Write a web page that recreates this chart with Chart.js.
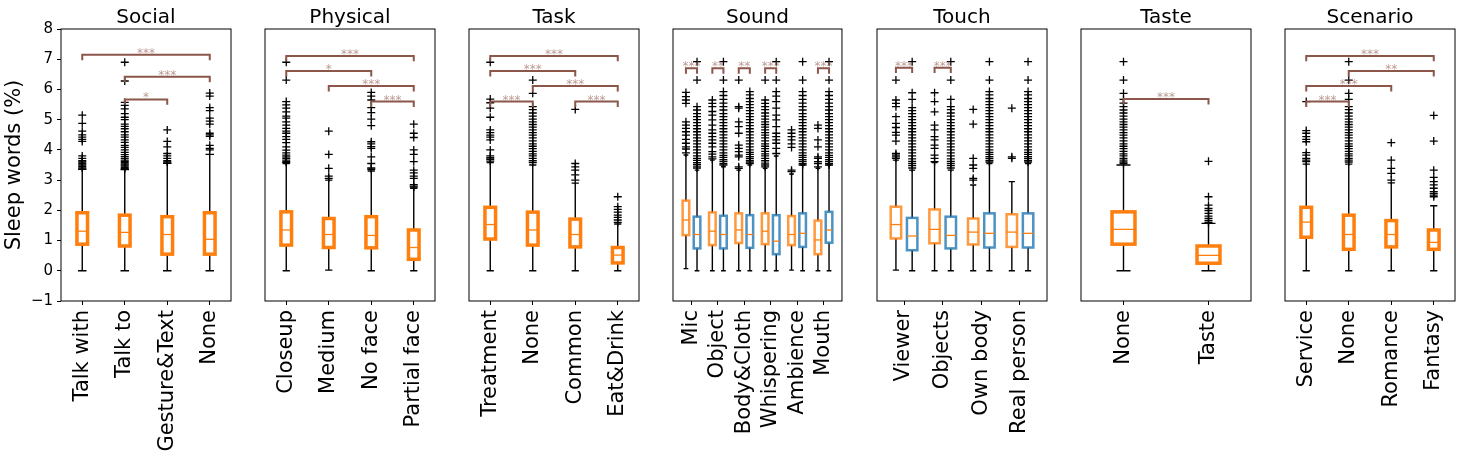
<!DOCTYPE html>
<html>
<head>
<meta charset="utf-8">
<script src="https://cdn.jsdelivr.net/npm/chart.js@4.4.1/dist/chart.umd.min.js"></script>
<style>
  body { margin: 0; background: #fff; }
  #fig { position: relative; width: 1462px; height: 461px; overflow: hidden; }
  #fig canvas { position: absolute; top: 0; }
</style>
</head>
<body>
<div id="fig"></div>
<script>
// ===============================
// Data (box stats are [low whisker, q1, median, q3, high whisker])
// ===============================

const socialLabels = ['Talk with', 'Talk to', 'Gesture&Text', 'None'];
const socialBoxes = [[0, 0.88, 1.31, 1.92, 3.36], [0, 0.82, 1.27, 1.84, 3.35], [0, 0.55, 1.2, 1.79, 3.56], [0, 0.55, 1.04, 1.92, 3.85]];
const socialFliers = [
  [5.15, 4.88, 4.62, 4.5, 4.42, 4.35, 4.28, 3.8, 3.72, 3.64, 3.6, 3.55, 3.5, 3.45, 3.4],
  [6.9, 6.28, 5.57, 5.47, 5.36, 5.2, 5.08, 5.0, 4.85, 4.78, 4.7, 4.6, 4.5, 4.42, 4.33, 4.25, 4.15, 4.08, 4.0, 3.92, 3.84, 3.78, 3.72, 3.66, 3.62, 3.58, 3.54, 3.5, 3.46, 3.42, 3.38],
  [4.66, 4.28, 4.1, 3.88, 3.8, 3.72, 3.64, 3.6],
  [5.88, 5.78, 5.4, 5.3, 5.05, 4.95, 4.85, 4.55, 4.5, 4.45, 4.15, 4.05, 4.0]
];
const socialSig = [[1, 4, 7.15, '***'], [2, 4, 6.42, '***'], [2, 3, 5.67, '*']];

const physicalLabels = ['Closeup', 'Medium', 'No face', 'Partial face'];
const physicalBoxes = [[0, 0.85, 1.35, 1.95, 3.55], [0.02, 0.77, 1.2, 1.73, 3.0], [0, 0.76, 1.17, 1.79, 3.3], [0, 0.38, 0.77, 1.35, 2.73]];
const physicalFliers = [
  [6.9, 6.31, 5.6, 5.49, 5.38, 5.26, 5.12, 5.05, 4.93, 4.82, 4.71, 4.62, 4.55, 4.44, 4.35, 4.24, 4.1, 3.99, 3.9, 3.83, 3.77, 3.72, 3.66, 3.61, 3.58],
  [4.62, 3.85, 3.39, 3.13, 3.06],
  [5.9, 5.78, 5.65, 5.4, 5.23, 5.02, 4.8, 4.27, 4.2, 4.11, 4.05, 3.77, 3.55, 3.4, 3.36],
  [4.85, 4.55, 4.41, 4.0, 3.85, 3.61, 3.33, 3.24, 3.13, 3.06, 2.85, 2.8, 2.77]
];
const physicalSig = [[1, 4, 7.11, '***'], [1, 3, 6.61, '*'], [2, 4, 6.11, '***'], [3, 4, 5.6, '***']];

const taskLabels = ['Treatment', 'None', 'Common', 'Eat&Drink'];
const taskBoxes = [[0, 1.05, 1.53, 2.1, 3.58], [0, 0.85, 1.35, 1.94, 3.5], [0, 0.79, 1.2, 1.71, 2.9], [0, 0.26, 0.52, 0.77, 1.55]];
const taskFliers = [
  [6.9, 5.68, 5.56, 5.38, 5.08, 4.66, 4.57, 4.49, 4.42, 4.33, 4.0, 3.8, 3.74, 3.69, 3.63],
  [6.31, 5.87, 5.43, 5.33, 5.22, 5.12, 5.02, 4.93, 4.84, 4.75, 4.66, 4.57, 4.49, 4.4, 4.3, 4.2, 4.12, 4.04, 3.95, 3.87, 3.8, 3.72, 3.64, 3.58],
  [5.34, 3.55, 3.44, 3.33, 3.17, 3.0],
  [2.45, 2.12, 2.03, 1.94, 1.84, 1.77, 1.68, 1.6]
];
const taskSig = [[1, 4, 7.11, '***'], [1, 3, 6.61, '***'], [2, 4, 6.11, '***'], [1, 2, 5.6, '***'], [3, 4, 5.6, '***']];

const soundLabels = ['Mic', 'Object', 'Body&Cloth', 'Whispering', 'Ambience', 'Mouth'];
const soundBoxesA = [[0.07, 1.18, 1.68, 2.32, 3.83], [0, 0.85, 1.31, 1.93, 3.66], [0, 0.92, 1.35, 1.9, 3.33], [0, 0.88, 1.31, 1.9, 3.39], [0.02, 0.85, 1.2, 1.81, 3.2], [0, 0.55, 1.02, 1.66, 3.39]];
const soundBoxesB = [[0, 0.74, 1.2, 1.79, 3.33], [0, 0.74, 1.2, 1.82, 3.44], [0, 0.76, 1.2, 1.84, 3.5], [0, 0.55, 0.98, 1.84, 3.8], [0, 0.79, 1.24, 1.9, 3.5], [0, 0.93, 1.35, 1.95, 3.5]];
const soundFliersA = [
  [5.9, 5.76, 5.65, 5.54, 4.93, 4.82, 4.71, 4.6, 4.49, 4.35, 4.22, 4.1, 4.03, 3.9],
  [5.65, 5.54, 5.43, 5.27, 5.15, 4.99, 4.82, 4.66, 4.55, 4.44, 4.33, 4.22, 4.1, 3.94, 3.86, 3.77, 3.7],
  [6.31, 5.43, 5.38, 4.93, 4.77, 4.55, 4.16, 4.05, 3.94, 3.83, 3.77, 3.44, 3.39],
  [6.31, 5.65, 5.54, 5.43, 5.33, 5.22, 5.12, 5.02, 4.93, 4.84, 4.75, 4.66, 4.57, 4.49, 4.4, 4.3, 4.2, 4.12, 4.04, 3.95, 3.87, 3.8, 3.72, 3.64, 3.56, 3.5, 3.44],
  [4.66, 4.55, 4.44, 4.33, 4.2, 4.08, 3.33, 3.28],
  [4.82, 4.71, 4.33, 4.1, 3.77, 3.72, 3.61, 3.55, 3.44]
];
const soundFliersB = [
  [6.92, 6.31, 5.43, 5.32, 5.2, 5.1, 5.0, 4.9, 4.8, 4.7, 4.6, 4.5, 4.4, 4.3, 4.2, 4.1, 4.0, 3.9, 3.8, 3.72, 3.65, 3.58, 3.52, 3.46, 3.4],
  [6.92, 6.31, 5.93, 5.8, 5.67, 5.55, 5.43, 5.32, 5.2, 5.1, 5.0, 4.9, 4.8, 4.7, 4.6, 4.5, 4.4, 4.3, 4.2, 4.1, 4.0, 3.9, 3.82, 3.75, 3.68, 3.62, 3.55, 3.5],
  [5.93, 5.82, 5.7, 5.6, 5.5, 5.4, 5.3, 5.2, 5.1, 5.0, 4.9, 4.8, 4.7, 4.6, 4.5, 4.4, 4.3, 4.2, 4.1, 4.0, 3.92, 3.85, 3.78, 3.72, 3.65, 3.6, 3.55],
  [6.92, 6.31, 5.93, 5.78, 5.6, 5.38, 5.15, 4.99, 4.77, 4.55, 4.44, 4.33, 4.22, 4.05, 3.88],
  [6.92, 6.31, 5.93, 5.8, 5.67, 5.55, 5.43, 5.32, 5.2, 5.1, 5.0, 4.9, 4.8, 4.7, 4.6, 4.5, 4.4, 4.3, 4.2, 4.1, 4.0, 3.9, 3.82, 3.75, 3.68, 3.62, 3.55, 3.5],
  [6.92, 6.31, 5.93, 5.8, 5.67, 5.55, 5.43, 5.32, 5.2, 5.1, 5.0, 4.9, 4.8, 4.7, 4.6, 4.5, 4.4, 4.3, 4.2, 4.1, 4.0, 3.9, 3.82, 3.75, 3.68, 3.62, 3.55, 3.5]
];
const soundSigPairs = [1, 2, 3, 4, 6];
const soundSigText = ['***', '**', '**', '***', '***'];

const touchLabels = ['Viewer', 'Objects', 'Own body', 'Real person'];
const touchBoxesA = [[0.02, 1.07, 1.53, 2.12, 3.66], [0, 0.91, 1.37, 2.03, 3.58], [0, 0.87, 1.28, 1.73, 2.84], [0, 0.79, 1.28, 1.87, 2.95]];
const touchBoxesB = [[0, 0.68, 1.15, 1.75, 3.33], [0, 0.74, 1.17, 1.79, 3.33], [0, 0.77, 1.24, 1.9, 3.55], [0, 0.77, 1.24, 1.9, 3.55]];
const touchFliersA = [
  [6.31, 5.65, 5.54, 5.43, 5.1, 4.88, 4.74, 4.58, 4.49, 4.29, 3.88, 3.83, 3.77, 3.72],
  [5.89, 5.6, 5.26, 4.82, 4.66, 4.44, 4.33, 4.16, 4.05, 3.83, 3.72, 3.61],
  [5.34, 4.85, 3.72, 3.5, 3.39, 3.06, 3.0],
  [5.38, 3.77, 3.72]
];
const touchFliersB = [
  [6.92, 5.89, 5.67, 5.4, 5.3, 5.2, 5.1, 5.0, 4.9, 4.8, 4.7, 4.6, 4.5, 4.4, 4.3, 4.2, 4.1, 4.0, 3.9, 3.8, 3.7, 3.62, 3.55, 3.48, 3.4],
  [6.92, 6.31, 5.67, 5.43, 5.33, 5.22, 5.12, 5.0, 4.9, 4.8, 4.7, 4.6, 4.5, 4.4, 4.3, 4.2, 4.1, 4.0, 3.9, 3.8, 3.7, 3.62, 3.55, 3.48, 3.4],
  [6.92, 6.31, 5.93, 5.82, 5.7, 5.6, 5.5, 5.4, 5.3, 5.2, 5.1, 5.0, 4.9, 4.8, 4.7, 4.6, 4.5, 4.4, 4.3, 4.2, 4.1, 4.0, 3.92, 3.85, 3.78, 3.72, 3.65, 3.6],
  [6.92, 6.31, 5.93, 5.82, 5.7, 5.6, 5.5, 5.4, 5.3, 5.2, 5.1, 5.0, 4.9, 4.8, 4.7, 4.6, 4.5, 4.4, 4.3, 4.2, 4.1, 4.0, 3.92, 3.85, 3.78, 3.72, 3.65, 3.6]
];
const touchSigPairs = [1, 2];
const touchSigText = ['***', '***'];

const tasteLabels = ['None', 'Taste'];
const tasteBoxes = [[0, 0.88, 1.37, 1.95, 3.5], [0, 0.25, 0.51, 0.82, 1.57]];
const tasteFliers = [
  [6.92, 6.31, 5.87, 5.67, 5.55, 5.43, 5.32, 5.22, 5.12, 5.02, 4.93, 4.84, 4.75, 4.66, 4.57, 4.49, 4.4, 4.3, 4.2, 4.12, 4.04, 3.95, 3.87, 3.8, 3.72, 3.66, 3.6, 3.55],
  [3.62, 2.45, 2.17, 2.06, 1.99, 1.9, 1.81, 1.73, 1.66, 1.6]
];
const tasteSig = [[1, 2, 5.68, '***']];

const scenarioLabels = ['Service', 'None', 'Romance', 'Fantasy'];
const scenarioBoxes = [[0, 1.11, 1.61, 2.1, 3.53], [0, 0.71, 1.2, 1.84, 3.53], [0, 0.79, 1.2, 1.66, 2.91], [0, 0.71, 0.94, 1.35, 2.15]];
const scenarioFliers = [
  [5.6, 4.64, 4.55, 4.44, 4.35, 4.27, 3.91, 3.83, 3.72, 3.66, 3.61],
  [6.92, 6.31, 5.87, 5.67, 5.43, 5.33, 5.22, 5.12, 5.02, 4.93, 4.84, 4.75, 4.66, 4.57, 4.49, 4.4, 4.3, 4.2, 4.12, 4.04, 3.95, 3.87, 3.8, 3.72, 3.66, 3.6],
  [4.24, 3.66, 3.39, 3.22, 3.0],
  [5.14, 4.29, 3.33, 3.09, 2.95, 2.84, 2.73, 2.62, 2.56, 2.5, 2.45]
];
const scenarioSig = [[1, 4, 7.11, '***'], [2, 4, 6.61, '**'], [1, 3, 6.11, '***'], [1, 2, 5.6, '***']];

// ===============================
// Layout / style
// ===============================
const PLOT_TOP = 29, PLOT_BOTTOM = 301, PLOT_W = 170, PANEL_STEP = 204, FIRST_LEFT = 61, PAD = 12, H = 461;
const ORANGE = '#ff7f0e', ORANGE_SOFT = 'rgba(255,127,14,0.8)', BLUE_SOFT = 'rgba(31,119,180,0.8)';
const BRACKET = '#8c564b', STAR = 'rgba(140,86,75,0.6)';
const PAIR_OFF = 0.21, SIG_DROP = 0.18, SOUND_SIG_H = 6.7, TOUCH_SIG_H = 6.72;

Chart.defaults.font.family = '"DejaVu Sans", sans-serif';
Chart.defaults.color = '#000';

const fig = document.getElementById('fig');

// brackets for paired panels sit between the two boxes of a pair
function pairSig(pairs, texts, h) {
  return pairs.map((p, k) => [p - PAIR_OFF, p + PAIR_OFF, h, texts[k]]);
}

function flierPoints(fliers, offset) {
  return fliers.flatMap((arr, i) => arr.map(v => ({ x: i + 1 + offset, y: v })));
}

// Draws boxes, whiskers, medians, significance brackets, frame and title
function boxPlotPlugin(cfg) {
  return {
    id: 'boxplot',
    beforeDatasetsDraw(chart) {
      const { ctx, scales: { x, y } } = chart;
      ctx.save();
      cfg.groups.forEach(g => {
        g.stats.forEach((s, i) => {
          const [lo, q1, med, q3, hi] = s;
          const c = i + 1 + g.offset;
          const xc = x.getPixelForValue(c);
          const xl = x.getPixelForValue(c - cfg.boxW / 2), xr = x.getPixelForValue(c + cfg.boxW / 2);
          const cl = x.getPixelForValue(c - cfg.capW / 2), cr = x.getPixelForValue(c + cfg.capW / 2);
          const yLo = y.getPixelForValue(lo), yQ1 = y.getPixelForValue(q1), yMed = y.getPixelForValue(med);
          const yQ3 = y.getPixelForValue(q3), yHi = y.getPixelForValue(hi);
          ctx.strokeStyle = '#000';
          ctx.lineWidth = 1.4;
          ctx.beginPath();
          ctx.moveTo(xc, yQ3); ctx.lineTo(xc, yHi);
          ctx.moveTo(xc, yQ1); ctx.lineTo(xc, yLo);
          ctx.moveTo(cl, yHi); ctx.lineTo(cr, yHi);
          ctx.moveTo(cl, yLo); ctx.lineTo(cr, yLo);
          ctx.stroke();
          ctx.strokeStyle = g.edge;
          ctx.lineWidth = g.lw;
          ctx.strokeRect(xl, yQ3, xr - xl, yQ1 - yQ3);
          ctx.strokeStyle = ORANGE;
          ctx.lineWidth = 1.3;
          ctx.beginPath();
          ctx.moveTo(xl, yMed); ctx.lineTo(xr, yMed);
          ctx.stroke();
        });
      });
      ctx.restore();
    },
    afterDatasetsDraw(chart) {
      const { ctx, scales: { x, y } } = chart;
      ctx.save();
      cfg.sig.forEach(([a, b, h, txt]) => {
        const xa = x.getPixelForValue(a), xb = x.getPixelForValue(b);
        const yh = y.getPixelForValue(h), yd = y.getPixelForValue(h - SIG_DROP);
        ctx.strokeStyle = BRACKET;
        ctx.lineWidth = 2;
        ctx.beginPath();
        ctx.moveTo(xa, yd); ctx.lineTo(xa, yh); ctx.lineTo(xb, yh); ctx.lineTo(xb, yd);
        ctx.stroke();
        ctx.fillStyle = STAR;
        ctx.font = '12px "DejaVu Sans"';
        ctx.textAlign = 'center';
        ctx.textBaseline = 'alphabetic';
        ctx.fillText(txt, (xa + xb) / 2, yh + 2);
      });
      ctx.restore();
    },
    afterDraw(chart) {
      const { ctx, chartArea: a } = chart;
      ctx.save();
      ctx.strokeStyle = '#000';
      ctx.lineWidth = 1;
      ctx.strokeRect(a.left, a.top, a.right - a.left, a.bottom - a.top);
      ctx.fillStyle = '#000';
      ctx.font = '20px "DejaVu Sans"';
      ctx.textAlign = 'center';
      ctx.textBaseline = 'alphabetic';
      ctx.fillText(cfg.title, (a.left + a.right) / 2, 23);
      ctx.restore();
    }
  };
}

function makePanel(idx, cfg) {
  const first = idx === 0;
  const areaLeft = FIRST_LEFT + idx * PANEL_STEP;
  const width = (first ? FIRST_LEFT : PAD) + PLOT_W + PAD;
  const canvas = document.createElement('canvas');
  canvas.width = width;
  canvas.height = H;
  canvas.style.width = width + 'px';
  canvas.style.height = H + 'px';
  canvas.style.left = (first ? 0 : areaLeft - PAD) + 'px';
  fig.appendChild(canvas);

  new Chart(canvas, {
    type: 'scatter',
    data: {
      datasets: cfg.groups.map(g => ({
        data: flierPoints(g.fliers, g.offset),
        pointStyle: 'cross',
        pointRadius: 4,
        borderColor: '#000',
        backgroundColor: '#000',
        borderWidth: 1.3
      }))
    },
    options: {
      responsive: false,
      animation: false,
      events: [],
      layout: { padding: { top: PLOT_TOP, bottom: 0, left: first ? 0 : PAD, right: PAD } },
      plugins: { legend: { display: false }, tooltip: { enabled: false }, title: { display: false } },
      scales: {
        x: {
          type: 'linear',
          min: cfg.xMin,
          max: cfg.xMax,
          afterBuildTicks: s => { s.ticks = cfg.labels.map((_, k) => ({ value: k + 1 })); },
          afterFit: s => { s.height = H - PLOT_BOTTOM; },
          ticks: {
            autoSkip: false, minRotation: 90, maxRotation: 90, padding: 5,
            color: '#000', font: { size: 21 },
            callback: (v, k) => cfg.labels[k]
          },
          grid: { drawOnChartArea: false, tickLength: 4, color: '#000' },
          border: { display: false }
        },
        y: {
          min: -1,
          max: 8,
          display: first,
          afterFit: s => { s.width = first ? FIRST_LEFT : 0; },
          ticks: {
            stepSize: 1, padding: 4, color: '#000', font: { size: 15 },
            callback: v => (v < 0 ? '\u2212' + Math.abs(v) : String(v))
          },
          grid: { drawOnChartArea: false, tickLength: 4, color: '#000' },
          border: { display: false },
          title: { display: true, text: 'Sleep words (%)', color: '#000', font: { size: 21 }, padding: { top: 2, bottom: 0 } }
        }
      }
    },
    plugins: [boxPlotPlugin(cfg)]
  });
}

// ===============================
// Panels
// ===============================
const single = (boxes, fliers) => [{ stats: boxes, fliers, offset: 0, edge: ORANGE, lw: 3.5 }];
const paired = (a, fa, b, fb) => [
  { stats: a, fliers: fa, offset: -PAIR_OFF, edge: ORANGE_SOFT, lw: 2.5 },
  { stats: b, fliers: fb, offset: PAIR_OFF, edge: BLUE_SOFT, lw: 2.5 }
];

makePanel(0, { title: 'Social', labels: socialLabels, xMin: 0.5, xMax: 4.5, boxW: 0.25, capW: 0.2, groups: single(socialBoxes, socialFliers), sig: socialSig });
makePanel(1, { title: 'Physical', labels: physicalLabels, xMin: 0.5, xMax: 4.5, boxW: 0.25, capW: 0.17, groups: single(physicalBoxes, physicalFliers), sig: physicalSig });
makePanel(2, { title: 'Task', labels: taskLabels, xMin: 0.5, xMax: 4.5, boxW: 0.25, capW: 0.17, groups: single(taskBoxes, taskFliers), sig: taskSig });
makePanel(3, { title: 'Sound', labels: soundLabels, xMin: 0.3, xMax: 6.7, boxW: 0.25, capW: 0.18, groups: paired(soundBoxesA, soundFliersA, soundBoxesB, soundFliersB), sig: pairSig(soundSigPairs, soundSigText, SOUND_SIG_H) });
makePanel(4, { title: 'Touch', labels: touchLabels, xMin: 0.3, xMax: 4.7, boxW: 0.27, capW: 0.16, groups: paired(touchBoxesA, touchFliersA, touchBoxesB, touchFliersB), sig: pairSig(touchSigPairs, touchSigText, TOUCH_SIG_H) });
makePanel(5, { title: 'Taste', labels: tasteLabels, xMin: 0.5, xMax: 2.5, boxW: 0.27, capW: 0.165, groups: single(tasteBoxes, tasteFliers), sig: tasteSig });
makePanel(6, { title: 'Scenario', labels: scenarioLabels, xMin: 0.5, xMax: 4.5, boxW: 0.25, capW: 0.17, groups: single(scenarioBoxes, scenarioFliers), sig: scenarioSig });
</script>
</body>
</html>
